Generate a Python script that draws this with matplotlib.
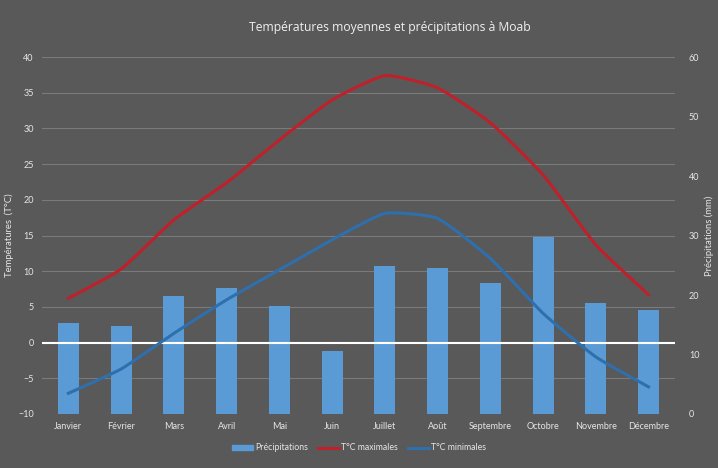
import numpy as np
import matplotlib.pyplot as plt
from matplotlib.patches import Patch
from matplotlib.lines import Line2D

plt.rcParams['font.family'] = ['Lato', 'DejaVu Sans']

mois = ['Janvier', 'Février', 'Mars', 'Avril', 'Mai', 'Juin', 'Juillet',
        'Août', 'Septembre', 'Octobre', 'Novembre', 'Décembre']
precipitations = [15.3, 14.8, 19.9, 21.1, 18.2, 10.6, 24.9, 24.5, 22.0, 29.7, 18.6, 17.4]
t_max = [6.2, 10.3, 17.2, 22.4, 28.4, 34.0, 37.4, 35.7, 30.8, 23.5, 13.7, 6.7]
t_min = [-7.1, -3.7, 1.3, 6.0, 10.2, 14.4, 18.1, 17.4, 11.8, 4.1, -2.0, -6.2]

BG = '#595959'
TXT = '#e6e6e6'


def smooth(x, y, k=0.5, n=20):
    # courbe hermite avec tangentes reduites (lissage leger facon Excel)
    x = np.asarray(x, float)
    y = np.asarray(y, float)
    mx = np.gradient(x) * k
    my = np.gradient(y) * k
    t = np.linspace(0, 1, n, endpoint=False)
    h00 = 2 * t ** 3 - 3 * t ** 2 + 1
    h10 = t ** 3 - 2 * t ** 2 + t
    h01 = -2 * t ** 3 + 3 * t ** 2
    h11 = t ** 3 - t ** 2
    xs, ys = [], []
    for i in range(len(x) - 1):
        xs.extend(h00 * x[i] + h10 * mx[i] + h01 * x[i + 1] + h11 * mx[i + 1])
        ys.extend(h00 * y[i] + h10 * my[i] + h01 * y[i + 1] + h11 * my[i + 1])
    xs.append(x[-1])
    ys.append(y[-1])
    return np.array(xs), np.array(ys)


fig = plt.figure(figsize=(7.18, 4.68), dpi=100, facecolor=BG)
ax = fig.add_axes([0.0585, 0.1154, 0.8815, 0.7626])
ax2 = ax.twinx()
ax.set_zorder(ax2.get_zorder() + 1)
ax.patch.set_visible(False)
ax2.set_facecolor(BG)

x = np.arange(len(mois))
ax2.bar(x, precipitations, width=0.4, color='#5b9bd5', zorder=2)
ax2.set_ylim(0, 60)
ax2.set_yticks(range(0, 61, 10))

ax.set_ylim(-10, 40)
ax.set_yticks(range(-10, 41, 5))
ax.set_xlim(-0.5, len(mois) - 0.5)
ax.set_xticks(x)
ax.set_xticklabels(mois)

for v in range(-10, 41, 5):
    if v != 0:
        ax2.axhline((v + 10) * 60 / 50, color='#7a7a7a', lw=0.8, zorder=1)
ax.axhline(0, color='white', lw=1.5, zorder=2)

sx, sy = smooth(x, t_max)
ax.plot(sx, sy, color='#c0202a', lw=2.2, zorder=3, solid_joinstyle='round')
sx, sy = smooth(x, t_min)
ax.plot(sx, sy, color='#2e6fae', lw=2.2, zorder=3, solid_joinstyle='round')

for a in (ax, ax2):
    for s in a.spines.values():
        s.set_visible(False)
    a.tick_params(length=0, colors=TXT, labelsize=6.5)
ax.tick_params(axis='y', pad=6)
ax.tick_params(axis='x', pad=6)
ax2.tick_params(axis='y', pad=10)

ax.set_ylabel('Températures  (T°C)', color=TXT, fontsize=6.8, labelpad=3)
ax2.set_ylabel('Précipitations (mm)', color=TXT, fontsize=6.8, labelpad=4)
fig.text(0.543, 0.942, 'Températures moyennes et précipitations à Moab',
         ha='center', va='center', color='#f0f0f0', fontsize=8.7,
         family=['Open Sans', 'DejaVu Sans'])

handles = [Patch(color='#5b9bd5'),
           Line2D([], [], color='#c0202a', lw=2.2),
           Line2D([], [], color='#2e6fae', lw=2.2)]
fig.legend(handles, ['Précipitations', 'T°C maximales', 'T°C minimales'],
           loc='center', bbox_to_anchor=(0.5, 0.043), ncol=3, frameon=False,
           fontsize=6.3, labelcolor=TXT, handlelength=2.4, handleheight=0.5,
           columnspacing=1.2, handletextpad=0.2)

fig.savefig('out.png', dpi=100, facecolor=BG)
